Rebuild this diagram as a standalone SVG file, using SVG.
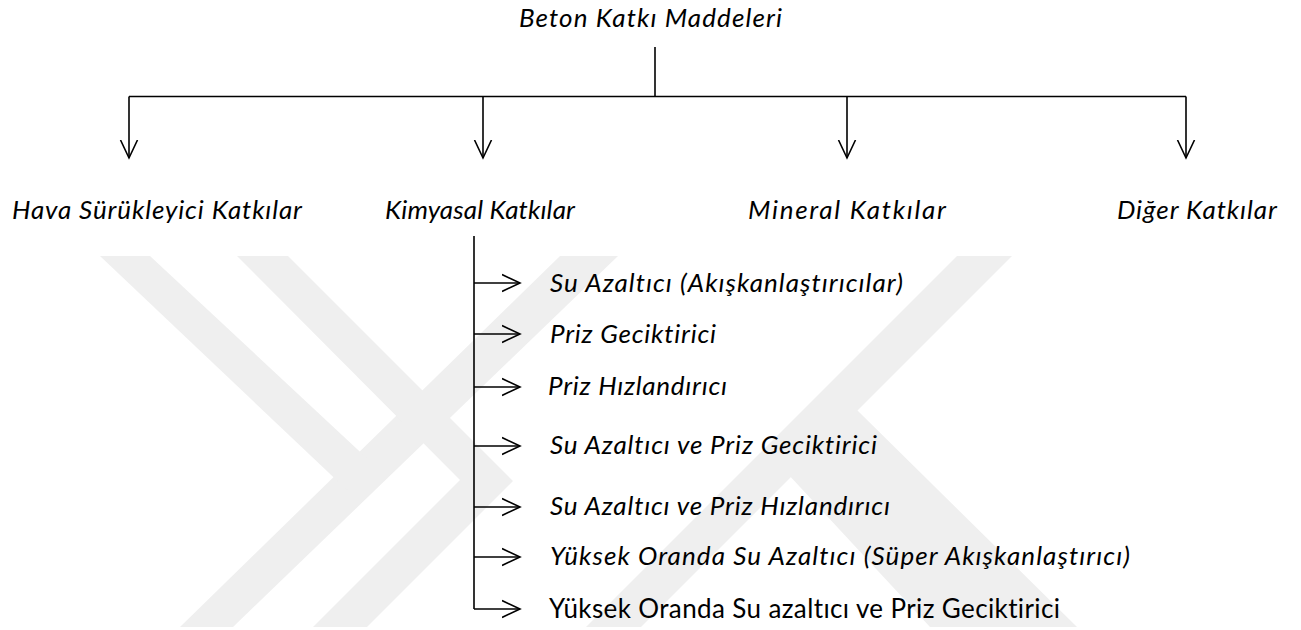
<svg xmlns="http://www.w3.org/2000/svg" width="1301" height="630" viewBox="0 0 1301 630">
<style>
  .wm { fill: #efefef; stroke: none; }
  .t { font-family: Lato, "Open Sans", "Liberation Sans", sans-serif; font-size: 26px; fill: #000; font-style: italic; font-variant-ligatures: none; }
  .r { font-style: normal; }
  .ln { fill: none; stroke: #000; stroke-width: 1.6; }
  .ar { fill: none; stroke: #000; stroke-width: 1.6; marker-end: url(#head); }
</style>
<defs>
  <marker id="head" markerUnits="userSpaceOnUse" markerWidth="22" markerHeight="22" refX="18" refY="10" orient="auto" viewBox="0 0 22 20">
    <path d="M0,1.5 L18,10 L0,18.5" fill="none" stroke="#000" stroke-width="1.6"/>
  </marker>
</defs>
<rect width="1301" height="630" fill="#fff"/>
<g id="watermark">
  <polygon class="wm" points="180,627 233,627 618,256 560,256"/>
  <polygon class="wm" points="100,256 150,256 372,463 347,490"/>
  <polygon class="wm" points="237,256 288,256 513,481 367,627 313,627 460,480"/>
  <polygon class="wm" points="957,256 1012,256 641,627 586,627"/>
  <polygon class="wm" points="787,473 857,410 1077,627 930,627"/>
</g>
<g id="connectors">
  <path class="ln" d="M655,47 V96.5"/>
  <path class="ln" d="M129,96.5 H1186"/>
  <path class="ar" d="M129,96.5 V158"/>
  <path class="ar" d="M483,96.5 V158"/>
  <path class="ar" d="M847,96.5 V158"/>
  <path class="ar" d="M1186,96.5 V158"/>
  <path class="ln" d="M474,236 V609"/>
  <path class="ar" d="M474,283 H520"/>
  <path class="ar" d="M474,334 H520"/>
  <path class="ar" d="M474,387 H520"/>
  <path class="ar" d="M474,446 H520"/>
  <path class="ar" d="M474,507 H520"/>
  <path class="ar" d="M474,557 H520"/>
  <path class="ar" d="M474,609 H520"/>
</g>
<g id="root"><text class="t" x="519" y="27" textLength="263">Beton Katkı Maddeleri</text></g>
<g id="hava"><text class="t" x="12" y="219" textLength="290">Hava Sürükleyici Katkılar</text></g>
<g id="kimyasal"><text class="t" x="385" y="219" textLength="190">Kimyasal Katkılar</text></g>
<g id="mineral"><text class="t" x="748" y="219" textLength="198">Mineral Katkılar</text></g>
<g id="diger"><text class="t" x="1117" y="219" textLength="160">Diğer Katkılar</text></g>
<g id="su-azaltici"><text class="t" x="550" y="292" textLength="353">Su Azaltıcı (Akışkanlaştırıcılar)</text></g>
<g id="priz-geciktirici"><text class="t" x="550" y="343" textLength="166">Priz Geciktirici</text></g>
<g id="priz-hizlandirici"><text class="t" x="548" y="395" textLength="179">Priz Hızlandırıcı</text></g>
<g id="su-azaltici-geciktirici"><text class="t" x="550" y="454" textLength="327">Su Azaltıcı ve Priz Geciktirici</text></g>
<g id="su-azaltici-hizlandirici"><text class="t" x="550" y="515" textLength="340">Su Azaltıcı ve Priz Hızlandırıcı</text></g>
<g id="yuksek-oranda"><text class="t" x="550" y="565" textLength="580">Yüksek Oranda Su Azaltıcı (Süper Akışkanlaştırıcı)</text></g>
<g id="yuksek-oranda-geciktirici"><text class="t r" x="549" y="618" textLength="511">Yüksek Oranda Su azaltıcı ve Priz Geciktirici</text></g>
</svg>
